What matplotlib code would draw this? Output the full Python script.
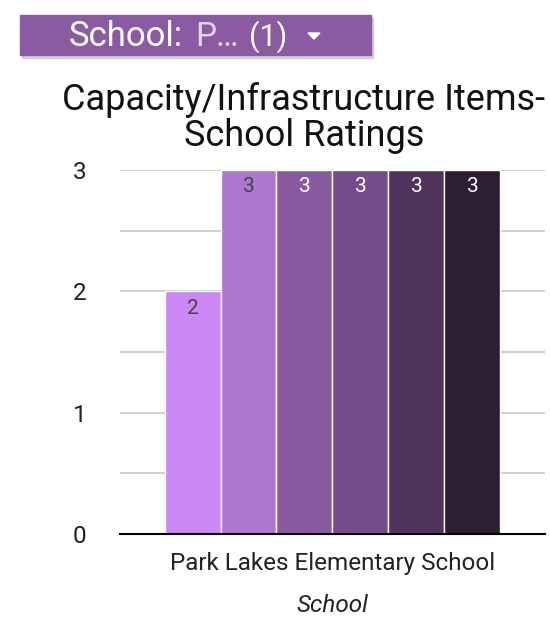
import matplotlib.pyplot as plt
from matplotlib.patches import Rectangle, Polygon

plt.rcParams['font.family'] = ['Roboto', 'DejaVu Sans']

categories = ['Park Lakes Elementary School']
ratings = [2, 3, 3, 3, 3, 3]
bar_colors = ['#cc88f4', '#ad77cd', '#8a5aa0', '#764d8a', '#50345e', '#2c1e33']
label_colors = ['#444444', '#444444', 'white', 'white', 'white', 'white']
y_ticks = [0, 1, 2, 3]

fig = plt.figure(figsize=(5.5, 6.25), dpi=100)
ax = fig.add_axes([0.218, 0.1456, 0.773, 0.5824])

group_w = 0.79
n = len(ratings)
bw = group_w / n
for i, (v, c, lc) in enumerate(zip(ratings, bar_colors, label_colors)):
    x = -group_w / 2 + bw * (i + 0.5)
    ax.bar(x, v, width=bw, color=c, edgecolor='white', linewidth=1, zorder=3)
    ax.text(x, v - 0.06, str(v), ha='center', va='top', fontsize=15,
            color=lc, zorder=4)

ax.set_xlim(-0.5, 0.5)
ax.set_ylim(0, 3)
ax.set_yticks(y_ticks)
ax.set_yticks([0.5, 1.5, 2.5], minor=True)
ax.set_yticklabels([str(t) for t in y_ticks], fontsize=17.5, color='#222222')
ax.tick_params(axis='y', which='both', length=0, pad=24)
ax.grid(axis='y', which='both', color='#cccccc', linewidth=1.3, zorder=0)
ax.set_xticks([0])
ax.set_xticklabels(categories, fontsize=17.5, color='#222222')
ax.tick_params(axis='x', length=0, pad=13)
ax.set_xlabel('School', fontsize=17.5, style='italic', color='#222222', labelpad=14)
for s in ['top', 'right', 'left']:
    ax.spines[s].set_visible(False)
ax.spines['bottom'].set_linewidth(1.5)
ax.spines['bottom'].set_zorder(5)

fig.text(304 / 550, 1 - 118 / 625, 'Capacity/Infrastructure Items-\nSchool Ratings',
         ha='center', va='center', fontsize=26, color='#111111',
         linespacing=1.0)

# filter button
fig.patches.append(Rectangle((22 / 550, 1 - 58 / 625), 351 / 550, 40 / 625,
                             transform=fig.transFigure, color='#bbbbbb', alpha=0.6))
fig.patches.append(Rectangle((20 / 550, 1 - 55 / 625), 351 / 550, 40 / 625,
                             transform=fig.transFigure, color='#8a5ba3'))
fig.text(69 / 550, 1 - 37 / 625, 'School:', ha='left', va='center',
         fontsize=25, color='white')
fig.text(195 / 550, 1 - 37 / 625, 'P…', ha='left', va='center',
         fontsize=24, color='#e0d4e8')
fig.text(249 / 550, 1 - 37 / 625, '(1)', ha='left', va='center',
         fontsize=22, color='white')
fig.patches.append(Polygon([(308 / 550, 1 - 33 / 625), (320 / 550, 1 - 33 / 625),
                            (314 / 550, 1 - 39 / 625)],
                           transform=fig.transFigure, color='white'))

plt.savefig('out.png', dpi=100)
